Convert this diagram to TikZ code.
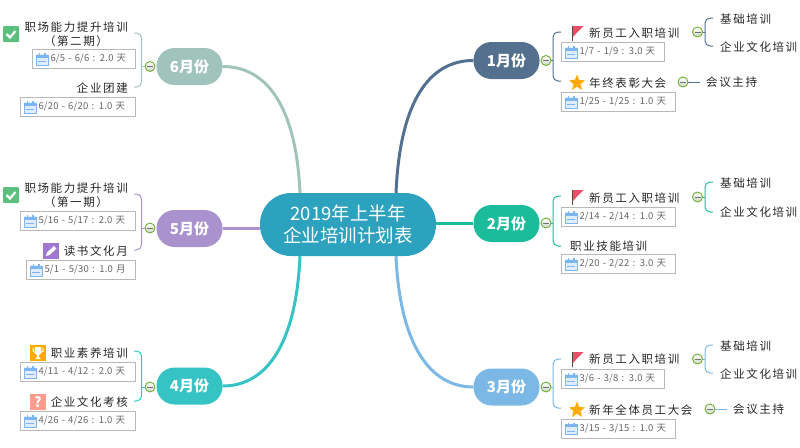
\documentclass[tikz,border=0pt]{standalone}
\usepackage{fontspec}
\setmainfont{Noto Sans CJK SC}
\newfontfamily\taskfont[LetterSpace=14]{Noto Sans CJK SC}
\newfontfamily\datefont[LetterSpace=2]{Noto Sans CJK SC}
\usetikzlibrary{shapes.geometric}
\definecolor{rootblue}{HTML}{2DA2BF}
\definecolor{jan}{HTML}{54708F}
\definecolor{feb}{HTML}{1ABC9C}
\definecolor{mar}{HTML}{7CB8E6}
\definecolor{apr}{HTML}{35C3C3}
\definecolor{may}{HTML}{A992CE}
\definecolor{jun}{HTML}{A0C4BC}
\definecolor{togglegreen}{HTML}{6FB02F}
\definecolor{calblue}{HTML}{7DB5F0}
\definecolor{flagred}{HTML}{E8506A}
\definecolor{polebrown}{HTML}{5A4A3A}
\definecolor{checkgreen}{HTML}{5CBF7D}
\definecolor{penpurple}{HTML}{A078D0}
\definecolor{cupgold}{HTML}{FFAA00}
\definecolor{asksalmon}{HTML}{FF9C8C}
\tikzset{
  calicon/.pic={
    \fill[calblue!25] (0,0) rectangle (12,11);
    \draw[calblue,line width=1pt] (0,1) rectangle (12,11);
    \fill[calblue] (0,1) rectangle (12,3.5);
    \fill[calblue] (2.5,-1) rectangle (4,2);
    \fill[calblue] (8,-1) rectangle (9.5,2);
    \draw[calblue,line width=0.8pt] (2,7.5) -- (10,7.5);
  },
  flagicon/.pic={
    \draw[polebrown,line width=1pt] (0,0) -- (0,15);
    \fill[flagred] (0.5,0) -- (11,0) -- (6,5) -- (0.5,11) -- cycle;
  },
  checkicon/.pic={
    \fill[checkgreen,rounded corners=1pt] (0,0) rectangle (16,16);
    \draw[white,line width=2.2pt] (3.5,8) -- (7,11.5) -- (12.5,5);
  },
  pencilicon/.pic={
    \fill[penpurple] (0,0) rectangle (16,16);
    \fill[white] (3,13) -- (4,9.5) -- (11,3) -- (13.5,5.5) -- (6.5,12) -- cycle;
  },
  trophyicon/.pic={
    \fill[cupgold] (0,0) rectangle (16,16);
    \draw[white,line width=1pt] (3,3) -- (3,6) -- (6,8) (13,3) -- (13,6) -- (10,8);
    \fill[white] (4.5,2) -- (11.5,2) -- (11,8) -- (9,10) -- (9,12) -- (11,14) -- (5,14) -- (7,12) -- (7,10) -- (5,8) -- cycle;
  },
  askicon/.pic={
    \fill[asksalmon] (0,0) rectangle (16,16);
    \node[white,font=\fontsize{14}{14}\selectfont\bfseries,inner sep=0pt] at (8,8) {?};
  }
}
\begin{document}
\begin{tikzpicture}[x=1pt, y=-1pt,
  rootnode/.style={fill=rootblue,text=white,rounded corners=31pt,minimum width=176pt,minimum height=63pt,align=center,inner sep=0pt,font=\fontsize{18.5}{22}\selectfont},
  month/.style={text=white,rounded corners=18pt,minimum width=66pt,minimum height=37pt,inner sep=0pt,font=\fontsize{15}{15}\selectfont\bfseries},
  task/.style={inner sep=0pt,text=black!85,font=\fontsize{11.5}{14}\selectfont\taskfont},
  datebox/.style={draw=black!28,line width=1pt,fill=white,anchor=north west,inner xsep=0pt,inner ysep=0pt,minimum height=19pt,align=left,text=black!60,font=\fontsize{9.5}{12}\selectfont\datefont,execute at begin node=\hspace*{18pt}},
  toggle/.style={circle,draw=togglegreen,line width=0.9pt,minimum size=10pt,inner sep=0pt,top color=white,bottom color=green!15!black!20,
    path picture={\draw[black!55,line width=0.8pt] ([xshift=-3pt]path picture bounding box.center) -- ([xshift=3pt]path picture bounding box.center);}},
  branch/.style={line width=3pt},
  link/.style={line width=1pt,rounded corners=5pt},
  medal/.style={star,star points=5,star point ratio=2.3,fill=cupgold,minimum size=17pt,inner sep=0pt}
]
\useasboundingbox (0,0) rectangle (800,447);
\node[rootnode] (root) at (348,224.5) {2019年上半年\\企业培训计划表};
\node[month,fill=jan] (m1) at (506.5,60.5) {1月份};
\node[month,fill=feb] (m2) at (506.5,223.5) {2月份};
\node[month,fill=mar] (m3) at (506.5,387) {3月份};
\node[month,fill=apr] (m4) at (189.5,386) {4月份};
\node[month,fill=may] (m5) at (189.5,228.5) {5月份};
\node[month,fill=jun] (m6) at (189.5,66.5) {6月份};
\draw[branch,jan] ([xshift=48pt]root.north) .. controls (400,100) and (430,60.5) .. (m1.west);
\draw[branch,feb] (root.east |- m2.west) -- (m2.west);
\draw[branch,mar] ([xshift=48pt]root.south) .. controls (400,345) and (430,387) .. (m3.west);
\draw[branch,apr] ([xshift=-48pt]root.south) .. controls (296,345) and (266,386) .. (m4.east);
\draw[branch,may] (root.west |- m5.east) -- (m5.east);
\draw[branch,jun] ([xshift=-48pt]root.north) .. controls (296,105) and (266,66.5) .. (m6.east);
\node[toggle] (tg1) at (546,60.5) {};
\node[toggle] (tg2) at (546,223) {};
\node[toggle] (tg3) at (546,387) {};
\node[toggle] (tg4) at (150,387) {};
\node[toggle] (tg5) at (150,228) {};
\node[toggle] (tg6) at (150,66.5) {};
\node[toggle] (tg1a) at (697.5,32) {};
\node[toggle] (tg1b) at (683,82) {};
\node[toggle] (tg2a) at (697.5,197) {};
\node[toggle] (tg3a) at (697.5,359) {};
\node[toggle] (tg3b) at (710,409) {};
\pic at (572.5,26) {flagicon};
\node[task,anchor=west] (t1a) at (589,33) {新员工入职培训};
\node[datebox,text width=103pt] (d1a) at (561,42) {1/7 - 1/9 : 3.0 天};
\pic at (565,47) {calicon};
\node[task,anchor=west] (t1c) at (720,19) {基础培训};
\node[task,anchor=west] (t1d) at (720,47.5) {企业文化培训};
\node[medal] (s1) at (577,83) {};
\node[task,anchor=west] (t1b) at (589,83) {年终表彰大会};
\node[task,anchor=west] (t1e) at (706,82) {会议主持};
\node[datebox,text width=114pt] (d1b) at (561,92) {1/25 - 1/25 : 1.0 天};
\pic at (565,97) {calicon};
\pic at (572.5,190) {flagicon};
\node[task,anchor=west] (t2a) at (589,198) {新员工入职培训};
\node[datebox,text width=114pt] (d2a) at (561,207) {2/14 - 2/14 : 1.0 天};
\pic at (565,212) {calicon};
\node[task,anchor=west] (t2c) at (720,183) {基础培训};
\node[task,anchor=west] (t2d) at (720,212) {企业文化培训};
\node[task,anchor=west] (t2b) at (570,246) {职业技能培训};
\node[datebox,text width=114pt] (d2b) at (561,254) {2/20 - 2/22 : 3.0 天};
\pic at (565,259) {calicon};
\pic at (572.5,352) {flagicon};
\node[task,anchor=west] (t3a) at (589,359.5) {新员工入职培训};
\node[datebox,text width=103pt] (d3a) at (561,369) {3/6 - 3/8 : 3.0 天};
\pic at (565,374) {calicon};
\node[task,anchor=west] (t3c) at (720,346) {基础培训};
\node[task,anchor=west] (t3d) at (720,374) {企业文化培训};
\node[medal] (s3) at (577,410) {};
\node[task,anchor=west] (t3b) at (589,410) {新年全体员工大会};
\node[task,anchor=west] (t3e) at (733,409) {会议主持};
\node[datebox,text width=114pt] (d3b) at (561,418.5) {3/15 - 3/15 : 1.0 天};
\pic at (565,423.5) {calicon};
\pic at (30,345) {trophyicon};
\node[task,anchor=east] (t4a) at (128,353) {职业素养培训};
\node[datebox,text width=115pt] (d4a) at (20,362) {4/11 - 4/12 : 2.0 天};
\pic at (24,367) {calicon};
\pic at (30,394) {askicon};
\node[task,anchor=east] (t4b) at (128,402) {企业文化考核};
\node[datebox,text width=115pt] (d4b) at (20,411) {4/26 - 4/26 : 1.0 天};
\pic at (24,416) {calicon};
\pic at (3,187) {checkicon};
\node[task,anchor=east] (t5a) at (128,188) {职场能力提升培训};
\node[task] (t5c) at (76,202) {（第一期）};
\node[datebox,text width=115pt] (d5a) at (20,211) {5/16 - 5/17 : 2.0 天};
\pic at (24,216) {calicon};
\pic at (43,243) {pencilicon};
\node[task,anchor=east] (t5b) at (128,251) {读书文化月};
\node[datebox,text width=109pt] (d5b) at (26,260) {5/1 - 5/30 : 1.0 月};
\pic at (30,265) {calicon};
\pic at (3,26) {checkicon};
\node[task,anchor=east] (t6a) at (128,27) {职场能力提升培训};
\node[task] (t6c) at (76,41) {（第二期）};
\node[datebox,text width=103pt] (d6a) at (32,49) {6/5 - 6/6 : 2.0 天};
\pic at (36,54) {calicon};
\node[task,anchor=east] (t6b) at (128,88) {企业团建};
\node[datebox,text width=115pt] (d6b) at (20,97) {6/20 - 6/20 : 1.0 天};
\pic at (24,102) {calicon};
\coordinate (e1a) at (561,32);
\coordinate (e1b) at (561,81);
\coordinate (e1c) at (713,18);
\coordinate (e1d) at (713,46);
\coordinate (e2a) at (561,196);
\coordinate (e2b) at (561,246);
\coordinate (e2c) at (713,182);
\coordinate (e2d) at (713,212);
\coordinate (e3a) at (561,359);
\coordinate (e3b) at (561,408);
\coordinate (e3c) at (713,345);
\coordinate (e3d) at (713,373);
\coordinate (e4a) at (134,351);
\coordinate (e4b) at (134,401);
\coordinate (e5a) at (134,194);
\coordinate (e5b) at (134,250);
\coordinate (e6a) at (134,33);
\coordinate (e6b) at (134,87);
\draw[link,jan] (e1a) -- ++(-8,0) |- (e1b);
\draw[link,jan] (tg1.east) -- ++(2,0);
\draw[link,jan] (e1c) -- ++(-8,0) |- (e1d);
\draw[link,jan] (tg1a.east) -- ++(2,0);
\draw[link,jan,shorten >=6pt] (tg1b.east) -- (t1e.west);
\draw[link,feb] (e2a) -- ++(-8,0) |- (e2b);
\draw[link,feb] (tg2.east) -- ++(2,0);
\draw[link,feb] (e2c) -- ++(-8,0) |- (e2d);
\draw[link,feb] (tg2a.east) -- ++(2,0);
\draw[link,mar] (e3a) -- ++(-8,0) |- (e3b);
\draw[link,mar] (tg3.east) -- ++(2,0);
\draw[link,mar] (e3c) -- ++(-8,0) |- (e3d);
\draw[link,mar] (tg3a.east) -- ++(2,0);
\draw[link,mar,shorten >=6pt] (tg3b.east) -- (t3e.west);
\draw[link,apr] (e4a) -- ++(7.5,0) |- (e4b);
\draw[link,apr] (tg4.west) -- ++(-3.5,0);
\draw[link,may] (e5a) -- ++(7.5,0) |- (e5b);
\draw[link,may] (tg5.west) -- ++(-3.5,0);
\draw[link,jun] (e6a) -- ++(7.5,0) |- (e6b);
\draw[link,jun] (tg6.west) -- ++(-3.5,0);
\end{tikzpicture}
\end{document}
